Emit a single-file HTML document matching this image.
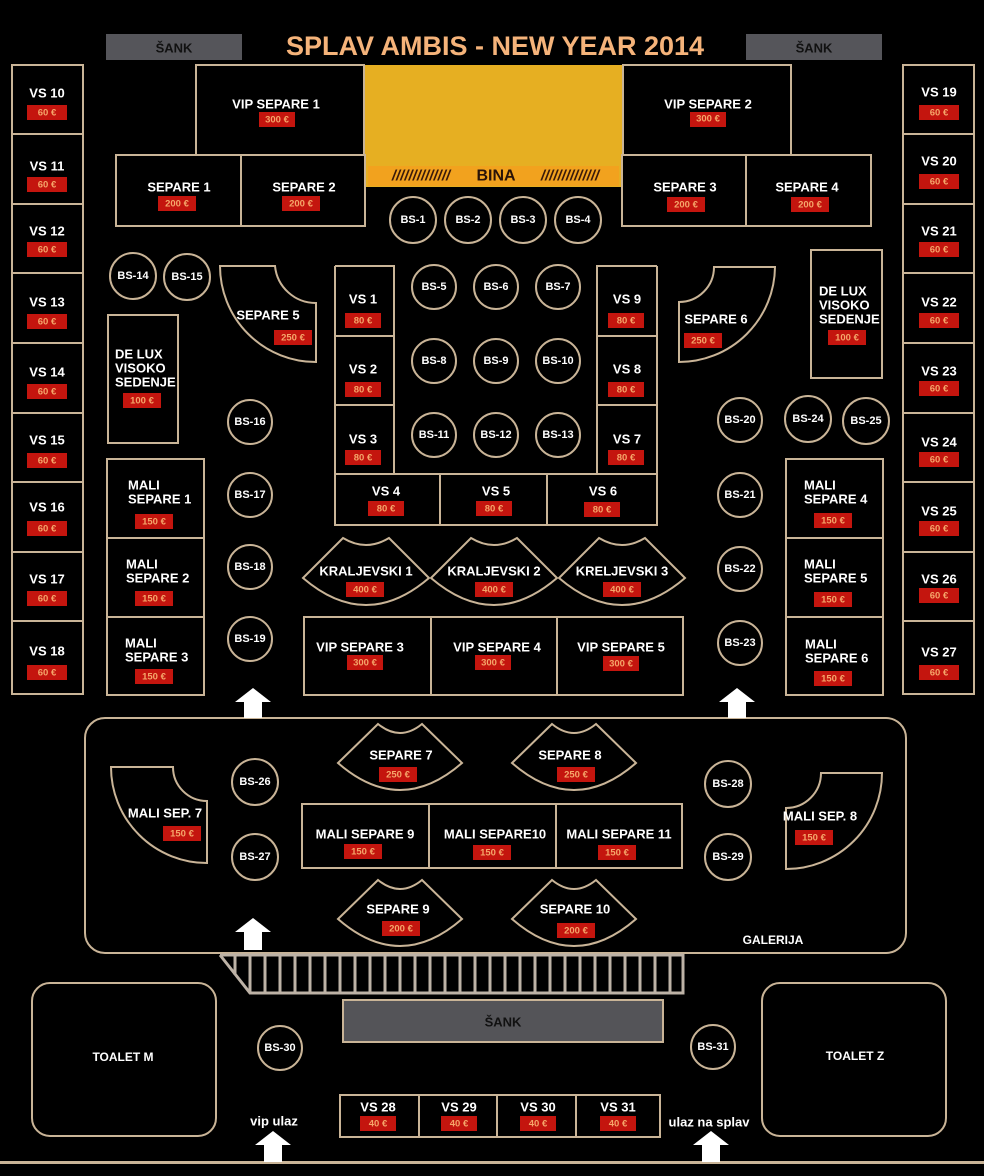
<!DOCTYPE html>
<html><head><meta charset="utf-8"><style>
html,body{margin:0;padding:0;background:#000;}
svg{display:block}
.s{fill:none;stroke:#c9b497;stroke-width:2}
.f{fill:#000;stroke:#c9b497;stroke-width:2}
text{font-family:"Liberation Sans",sans-serif;font-weight:bold;fill:#fff;text-anchor:middle;dominant-baseline:central}
.l{font-size:13px}
.b{font-size:11px}
.p{fill:#c4150e}
.pt{font-size:9.5px;fill:#f5a66a}
</style></head><body>
<svg width="984" height="1176" viewBox="0 0 984 1176" xmlns="http://www.w3.org/2000/svg">
<rect width="984" height="1176" fill="#000"/>
<!-- header -->
<rect x="106" y="34" width="136" height="26" fill="#55555a"/>
<text x="174" y="48" class="l" style="fill:#111">ŠANK</text>
<rect x="746" y="34" width="136" height="26" fill="#55555a"/>
<text x="814" y="48" class="l" style="fill:#111">ŠANK</text>
<text x="495" y="46" style="font-size:27px;fill:#f5b37a">SPLAV AMBIS - NEW YEAR 2014</text>

<!-- left VS column -->
<g class="s"><rect x="12" y="65" width="71" height="629"/>
<path d="M12 134H83M12 204H83M12 273H83M12 343H83M12 413H83M12 482H83M12 552H83M12 621H83"/>
<rect x="903" y="65" width="71" height="629"/>
<path d="M903 134H974M903 204H974M903 273H974M903 343H974M903 413H974M903 482H974M903 552H974M903 621H974"/></g>
<g>
<text x="47" y="93" class="l">VS 10</text><rect class="p" x="27" y="105" width="40" height="15"/><text class="pt" x="47" y="113">60 €</text>
<text x="47" y="166" class="l">VS 11</text><rect class="p" x="27" y="177" width="40" height="15"/><text class="pt" x="47" y="185">60 €</text>
<text x="47" y="231" class="l">VS 12</text><rect class="p" x="27" y="242" width="40" height="15"/><text class="pt" x="47" y="250">60 €</text>
<text x="47" y="302" class="l">VS 13</text><rect class="p" x="27" y="314" width="40" height="15"/><text class="pt" x="47" y="322">60 €</text>
<text x="47" y="372" class="l">VS 14</text><rect class="p" x="27" y="384" width="40" height="15"/><text class="pt" x="47" y="392">60 €</text>
<text x="47" y="440" class="l">VS 15</text><rect class="p" x="27" y="453" width="40" height="15"/><text class="pt" x="47" y="461">60 €</text>
<text x="47" y="507" class="l">VS 16</text><rect class="p" x="27" y="521" width="40" height="15"/><text class="pt" x="47" y="529">60 €</text>
<text x="47" y="579" class="l">VS 17</text><rect class="p" x="27" y="591" width="40" height="15"/><text class="pt" x="47" y="599">60 €</text>
<text x="47" y="651" class="l">VS 18</text><rect class="p" x="27" y="665" width="40" height="15"/><text class="pt" x="47" y="673">60 €</text>

<text x="939" y="92" class="l">VS 19</text><rect class="p" x="919" y="105" width="40" height="15"/><text class="pt" x="939" y="113">60 €</text>
<text x="939" y="161" class="l">VS 20</text><rect class="p" x="919" y="174" width="40" height="15"/><text class="pt" x="939" y="182">60 €</text>
<text x="939" y="231" class="l">VS 21</text><rect class="p" x="919" y="242" width="40" height="15"/><text class="pt" x="939" y="250">60 €</text>
<text x="939" y="302" class="l">VS 22</text><rect class="p" x="919" y="313" width="40" height="15"/><text class="pt" x="939" y="321">60 €</text>
<text x="939" y="371" class="l">VS 23</text><rect class="p" x="919" y="381" width="40" height="15"/><text class="pt" x="939" y="389">60 €</text>
<text x="939" y="442" class="l">VS 24</text><rect class="p" x="919" y="452" width="40" height="15"/><text class="pt" x="939" y="460">60 €</text>
<text x="939" y="511" class="l">VS 25</text><rect class="p" x="919" y="521" width="40" height="15"/><text class="pt" x="939" y="529">60 €</text>
<text x="939" y="579" class="l">VS 26</text><rect class="p" x="919" y="588" width="40" height="15"/><text class="pt" x="939" y="596">60 €</text>
<text x="939" y="652" class="l">VS 27</text><rect class="p" x="919" y="665" width="40" height="15"/><text class="pt" x="939" y="673">60 €</text>
</g>

<!-- stage -->
<rect x="364" y="65" width="259" height="122" fill="#e6af22"/>
<rect x="368" y="166" width="251" height="20" fill="#f2a21e"/>
<text x="421" y="176" style="font-size:15px;fill:#3a1a0a;font-style:italic">//////////////</text>
<text x="496" y="176" style="font-size:16px;fill:#2a1208">BINA</text>
<text x="570" y="176" style="font-size:15px;fill:#3a1a0a;font-style:italic">//////////////</text>

<g class="s">
<rect x="196" y="65" width="168" height="90"/>
<rect x="623" y="65" width="168" height="90"/>
<rect x="116" y="155" width="249" height="71"/><path d="M241 155V226"/>
<rect x="622" y="155" width="249" height="71"/><path d="M746 155V226"/>
</g>
<text x="276" y="104" class="l">VIP SEPARE 1</text><rect class="p" x="259" y="112" width="36" height="15"/><text class="pt" x="277" y="120">300 €</text>
<text x="708" y="104" class="l">VIP SEPARE 2</text><rect class="p" x="690" y="112" width="36" height="15"/><text class="pt" x="708" y="119">300 €</text>
<text x="179" y="187" class="l">SEPARE 1</text><rect class="p" x="158" y="196" width="38" height="15"/><text class="pt" x="177" y="204">200 €</text>
<text x="304" y="187" class="l">SEPARE 2</text><rect class="p" x="282" y="196" width="38" height="15"/><text class="pt" x="301" y="204">200 €</text>
<text x="685" y="187" class="l">SEPARE 3</text><rect class="p" x="667" y="197" width="38" height="15"/><text class="pt" x="686" y="205">200 €</text>
<text x="807" y="187" class="l">SEPARE 4</text><rect class="p" x="791" y="197" width="38" height="15"/><text class="pt" x="810" y="205">200 €</text>

<!-- circles -->
<g class="s">
<circle cx="413" cy="220" r="23"/><circle cx="468" cy="220" r="23"/><circle cx="523" cy="220" r="23"/><circle cx="578" cy="220" r="23"/>
<circle cx="133" cy="276" r="23"/><circle cx="187" cy="277" r="23"/>
<circle cx="434" cy="287" r="22"/><circle cx="496" cy="287" r="22"/><circle cx="558" cy="287" r="22"/>
<circle cx="434" cy="361" r="22"/><circle cx="496" cy="361" r="22"/><circle cx="558" cy="361" r="22"/>
<circle cx="434" cy="435" r="22"/><circle cx="496" cy="435" r="22"/><circle cx="558" cy="435" r="22"/>
<circle cx="250" cy="422" r="22"/><circle cx="250" cy="495" r="22"/><circle cx="250" cy="567" r="22"/><circle cx="250" cy="639" r="22"/>
<circle cx="740" cy="420" r="22"/><circle cx="740" cy="495" r="22"/><circle cx="740" cy="569" r="22"/><circle cx="740" cy="643" r="22"/>
<circle cx="808" cy="419" r="23"/><circle cx="866" cy="421" r="23"/>
<circle cx="255" cy="782" r="23"/><circle cx="255" cy="857" r="23"/><circle cx="728" cy="784" r="23"/><circle cx="728" cy="857" r="23"/>
<circle cx="280" cy="1048" r="22"/><circle cx="713" cy="1047" r="22"/>
</g>
<g class="b">
<text x="413" y="220">BS-1</text><text x="468" y="220">BS-2</text><text x="523" y="220">BS-3</text><text x="578" y="220">BS-4</text>
<text x="133" y="276">BS-14</text><text x="187" y="277">BS-15</text>
<text x="434" y="287">BS-5</text><text x="496" y="287">BS-6</text><text x="558" y="287">BS-7</text>
<text x="434" y="361">BS-8</text><text x="496" y="361">BS-9</text><text x="558" y="361">BS-10</text>
<text x="434" y="435">BS-11</text><text x="496" y="435">BS-12</text><text x="558" y="435">BS-13</text>
<text x="250" y="422">BS-16</text><text x="250" y="495">BS-17</text><text x="250" y="567">BS-18</text><text x="250" y="639">BS-19</text>
<text x="740" y="420">BS-20</text><text x="740" y="495">BS-21</text><text x="740" y="569">BS-22</text><text x="740" y="643">BS-23</text>
<text x="808" y="419">BS-24</text><text x="866" y="421">BS-25</text>
<text x="255" y="782">BS-26</text><text x="255" y="857">BS-27</text><text x="728" y="784">BS-28</text><text x="728" y="857">BS-29</text>
<text x="280" y="1048">BS-30</text><text x="713" y="1047">BS-31</text>
</g>

<!-- separe 5/6, de lux -->
<g class="s">
<path d="M220 266L275 266A41 41 0 0 0 316 303L316 362A96 96 0 0 1 220 266Z"/>
<path d="M679 302A35 35 0 0 0 714 267L775 267A96 96 0 0 1 679 362Z"/>
<rect x="108" y="315" width="70" height="128"/>
<rect x="811" y="250" width="71" height="128"/>
</g>
<text x="268" y="315" class="l">SEPARE 5</text><rect class="p" x="274" y="330" width="38" height="15"/><text class="pt" x="293" y="338">250 €</text>
<text x="716" y="319" class="l">SEPARE 6</text><rect class="p" x="684" y="333" width="38" height="15"/><text class="pt" x="703" y="341">250 €</text>
<g class="l" style="text-anchor:start">
<text x="115" y="354" style="text-anchor:start">DE LUX</text><text x="115" y="368" style="text-anchor:start">VISOKO</text><text x="115" y="382" style="text-anchor:start">SEDENJE</text>
<text x="819" y="291" style="text-anchor:start">DE LUX</text><text x="819" y="305" style="text-anchor:start">VISOKO</text><text x="819" y="319" style="text-anchor:start">SEDENJE</text>
</g>
<rect class="p" x="123" y="393" width="38" height="15"/><text class="pt" x="142" y="401">100 €</text>
<rect class="p" x="828" y="330" width="38" height="15"/><text class="pt" x="847" y="338">100 €</text>

<!-- center block -->
<g class="s">
<path d="M335 266H394V474M335 336H394M335 405H394"/>
<path d="M657 266H597V474M657 336H597M657 405H597"/>
<path d="M335 266V525H657V266M335 474H657M440 474V525M547 474V525"/>
</g>
<text x="363" y="299" class="l">VS 1</text><rect class="p" x="345" y="313" width="36" height="15"/><text class="pt" x="363" y="321">80 €</text>
<text x="363" y="369" class="l">VS 2</text><rect class="p" x="345" y="382" width="36" height="15"/><text class="pt" x="363" y="390">80 €</text>
<text x="363" y="439" class="l">VS 3</text><rect class="p" x="345" y="450" width="36" height="15"/><text class="pt" x="363" y="458">80 €</text>
<text x="627" y="299" class="l">VS 9</text><rect class="p" x="608" y="313" width="36" height="15"/><text class="pt" x="626" y="321">80 €</text>
<text x="627" y="369" class="l">VS 8</text><rect class="p" x="608" y="382" width="36" height="15"/><text class="pt" x="626" y="390">80 €</text>
<text x="627" y="439" class="l">VS 7</text><rect class="p" x="608" y="450" width="36" height="15"/><text class="pt" x="626" y="458">80 €</text>
<text x="386" y="491" class="l">VS 4</text><rect class="p" x="368" y="501" width="36" height="15"/><text class="pt" x="386" y="509">80 €</text>
<text x="496" y="491" class="l">VS 5</text><rect class="p" x="476" y="501" width="36" height="15"/><text class="pt" x="494" y="509">80 €</text>
<text x="603" y="491" class="l">VS 6</text><rect class="p" x="584" y="502" width="36" height="15"/><text class="pt" x="602" y="510">80 €</text>

<!-- kraljevski -->
<g class="s">
<path d="M303 578L343 538Q366 552 389 538L429 578Q366 632 303 578Z"/>
<path d="M431 578L471 538Q494 552 517 538L557 578Q494 632 431 578Z"/>
<path d="M559 578L599 538Q622 552 645 538L685 578Q622 632 559 578Z"/>
</g>
<text x="366" y="571" class="l">KRALJEVSKI 1</text><rect class="p" x="346" y="582" width="38" height="15"/><text class="pt" x="365" y="590">400 €</text>
<text x="494" y="571" class="l">KRALJEVSKI 2</text><rect class="p" x="475" y="582" width="38" height="15"/><text class="pt" x="494" y="590">400 €</text>
<text x="622" y="571" class="l">KRELJEVSKI 3</text><rect class="p" x="603" y="582" width="38" height="15"/><text class="pt" x="622" y="590">400 €</text>

<g class="s">
<rect x="304" y="617" width="379" height="78"/><path d="M431 617V695M557 617V695"/>
<rect x="107" y="459" width="97" height="236"/><path d="M107 538H204M107 617H204"/>
<rect x="786" y="459" width="97" height="236"/><path d="M786 538H883M786 617H883"/>
</g>
<text x="360" y="647" class="l">VIP SEPARE 3</text><rect class="p" x="347" y="655" width="36" height="15"/><text class="pt" x="365" y="663">300 €</text>
<text x="497" y="647" class="l">VIP SEPARE 4</text><rect class="p" x="475" y="655" width="36" height="15"/><text class="pt" x="493" y="663">300 €</text>
<text x="621" y="647" class="l">VIP SEPARE 5</text><rect class="p" x="603" y="656" width="36" height="15"/><text class="pt" x="621" y="664">300 €</text>

<g class="l">
<text x="128" y="485" style="text-anchor:start">MALI</text><text x="128" y="499" style="text-anchor:start">SEPARE 1</text>
<text x="126" y="564" style="text-anchor:start">MALI</text><text x="126" y="578" style="text-anchor:start">SEPARE 2</text>
<text x="125" y="643" style="text-anchor:start">MALI</text><text x="125" y="657" style="text-anchor:start">SEPARE 3</text>
<text x="804" y="485" style="text-anchor:start">MALI</text><text x="804" y="499" style="text-anchor:start">SEPARE 4</text>
<text x="804" y="564" style="text-anchor:start">MALI</text><text x="804" y="578" style="text-anchor:start">SEPARE 5</text>
<text x="805" y="644" style="text-anchor:start">MALI</text><text x="805" y="658" style="text-anchor:start">SEPARE 6</text>
</g>
<rect class="p" x="135" y="514" width="38" height="15"/><text class="pt" x="154" y="522">150 €</text>
<rect class="p" x="135" y="591" width="38" height="15"/><text class="pt" x="154" y="599">150 €</text>
<rect class="p" x="135" y="669" width="38" height="15"/><text class="pt" x="154" y="677">150 €</text>
<rect class="p" x="814" y="513" width="38" height="15"/><text class="pt" x="833" y="521">150 €</text>
<rect class="p" x="814" y="592" width="38" height="15"/><text class="pt" x="833" y="600">150 €</text>
<rect class="p" x="814" y="671" width="38" height="15"/><text class="pt" x="833" y="679">150 €</text>

<!-- galerija -->
<rect class="s" x="85" y="718" width="821" height="235" rx="20"/>
<g class="s">
<path d="M338 763L378 724Q400 742 422 724L462 763Q400 817 338 763Z"/>
<path d="M512 763L552 724Q574 742 596 724L636 763Q574 817 512 763Z"/>
<path d="M338 919L378 880Q400 898 422 880L462 919Q400 973 338 919Z"/>
<path d="M512 919L552 880Q574 898 596 880L636 919Q574 973 512 919Z"/>
<path d="M111 767L173 767A34 34 0 0 0 207 801L207 863A96 96 0 0 1 111 767Z"/>
<path d="M786 808A35 35 0 0 0 821 773L882 773A96 96 0 0 1 786 869Z"/>
<rect x="302" y="804" width="380" height="64"/><path d="M429 804V868M556 804V868"/>
</g>
<text x="401" y="755" class="l">SEPARE 7</text><rect class="p" x="379" y="767" width="38" height="15"/><text class="pt" x="398" y="775">250 €</text>
<text x="570" y="755" class="l">SEPARE 8</text><rect class="p" x="557" y="767" width="38" height="15"/><text class="pt" x="576" y="775">250 €</text>
<text x="398" y="909" class="l">SEPARE 9</text><rect class="p" x="382" y="921" width="38" height="15"/><text class="pt" x="401" y="929">200 €</text>
<text x="575" y="909" class="l">SEPARE 10</text><rect class="p" x="557" y="923" width="38" height="15"/><text class="pt" x="576" y="931">200 €</text>
<text x="165" y="813" class="l">MALI SEP. 7</text><rect class="p" x="163" y="826" width="38" height="15"/><text class="pt" x="182" y="834">150 €</text>
<text x="820" y="816" class="l">MALI SEP. 8</text><rect class="p" x="795" y="830" width="38" height="15"/><text class="pt" x="814" y="838">150 €</text>
<text x="365" y="834" class="l">MALI SEPARE 9</text><rect class="p" x="344" y="844" width="38" height="15"/><text class="pt" x="363" y="852">150 €</text>
<text x="495" y="834" class="l">MALI SEPARE10</text><rect class="p" x="473" y="845" width="38" height="15"/><text class="pt" x="492" y="853">150 €</text>
<text x="619" y="834" class="l">MALI SEPARE 11</text><rect class="p" x="598" y="845" width="38" height="15"/><text class="pt" x="617" y="853">150 €</text>
<text x="773" y="940" class="l" style="font-size:12px">GALERIJA</text>

<!-- railing -->
<g stroke="#bdb2a6" stroke-width="3" fill="none">
<path d="M220 955H683V993H250L220 955"/>
<path d="M250 955V993M265 955V993M280 955V993M295 955V993M310 955V993M325 955V993M340 955V993M355 955V993M370 955V993M385 955V993M400 955V993M415 955V993M430 955V993M445 955V993M460 955V993M475 955V993M490 955V993M505 955V993M520 955V993M535 955V993M550 955V993M565 955V993M580 955V993M595 955V993M610 955V993M625 955V993M640 955V993M655 955V993M670 955V993M235 955V975"/>
</g>

<!-- bottom -->
<rect x="343" y="1000" width="320" height="42" fill="#545458" stroke="#c9b497" stroke-width="2"/>
<text x="503" y="1022" class="l" style="fill:#111">ŠANK</text>
<rect class="s" x="32" y="983" width="184" height="153" rx="18"/>
<rect class="s" x="762" y="983" width="184" height="153" rx="18"/>
<text x="123" y="1057" class="l" style="font-size:12px">TOALET  M</text>
<text x="855" y="1056" class="l" style="font-size:12px">TOALET  Z</text>
<g class="s"><rect x="340" y="1095" width="320" height="42"/><path d="M419 1095V1137M497 1095V1137M576 1095V1137"/></g>
<text x="378" y="1107" class="l">VS 28</text><rect class="p" x="360" y="1116" width="36" height="15"/><text class="pt" x="378" y="1124">40 €</text>
<text x="459" y="1107" class="l">VS 29</text><rect class="p" x="441" y="1116" width="36" height="15"/><text class="pt" x="459" y="1124">40 €</text>
<text x="538" y="1107" class="l">VS 30</text><rect class="p" x="520" y="1116" width="36" height="15"/><text class="pt" x="538" y="1124">40 €</text>
<text x="618" y="1107" class="l">VS 31</text><rect class="p" x="600" y="1116" width="36" height="15"/><text class="pt" x="618" y="1124">40 €</text>
<text x="274" y="1121" class="l">vip ulaz</text>
<text x="709" y="1122" class="l">ulaz na splav</text>
<rect x="0" y="1161" width="984" height="3" fill="#c9b497"/>

<!-- arrows -->
<g fill="#fff">
<path d="M253 688L271 702H262V718H244V702H235Z"/>
<path d="M737 688L755 702H746V718H728V702H719Z"/>
<path d="M253 918L271 932H262V950H244V932H235Z"/>
<path d="M273 1131L291 1145H282V1162H264V1145H255Z"/>
<path d="M711 1131L729 1145H720V1162H702V1145H693Z"/>
</g>
</svg>
</body></html>
